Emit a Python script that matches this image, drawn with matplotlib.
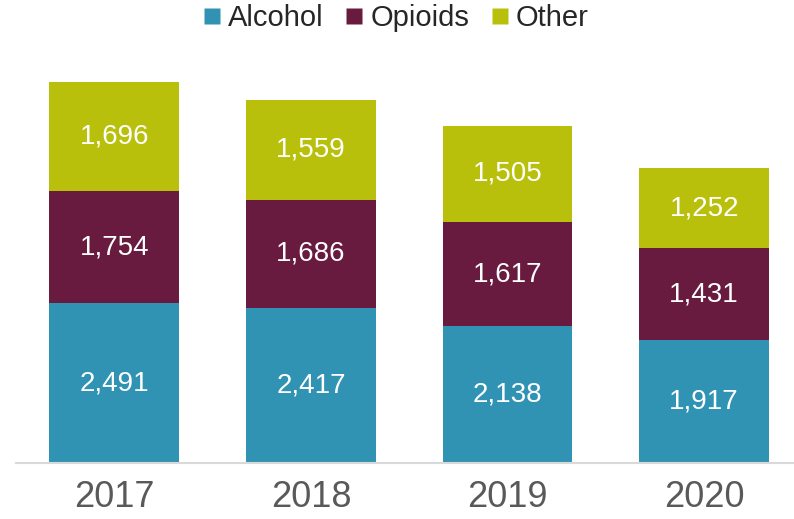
import matplotlib
matplotlib.use('Agg')
import matplotlib.pyplot as plt
from matplotlib.lines import Line2D
import numpy as np

years = ['2017', '2018', '2019', '2020']
alcohol = [2491, 2417, 2138, 1917]
opioids = [1754, 1686, 1617, 1431]
other = [1696, 1559, 1505, 1252]

series = [('Alcohol', alcohol, '#3093b3'),
          ('Opioids', opioids, '#681a3f'),
          ('Other', other, '#b8c00c')]

plt.rcParams['font.family'] = ['Liberation Sans', 'DejaVu Sans']

fig = plt.figure(figsize=(7.94, 5.19), dpi=100)
# axes placed so the baseline sits at y=463px and spans to the right edge
ax = fig.add_axes([16 / 794, 1 - 463 / 519, 1 - 16 / 794, 423 / 519])

x = np.arange(len(years))
bottom = np.zeros(len(years))
for name, vals, col in series:
    vals = np.array(vals)
    ax.bar(x, vals, 0.66, bottom=bottom, color=col, edgecolor='none')
    for xi, b, v in zip(x, bottom, vals):
        ax.text(xi, b + v / 2, f'{v:,}', ha='center', va='center',
                color='white', fontsize=20)
    bottom += vals

ax.set_xlim(-0.5, 3.457)
ax.set_ylim(0, 6596)
ax.set_yticks([])
ax.set_xticks(x)
ax.set_xticklabels(years, fontsize=26, color='#595959')
ax.tick_params(axis='x', length=0, pad=12)
for s in ['top', 'right', 'left']:
    ax.spines[s].set_visible(False)
ax.spines['bottom'].set_color('#d9d9d9')
ax.spines['bottom'].set_linewidth(1.5)

handles = [Line2D([], [], marker='s', linestyle='none', markersize=11.5,
                  markerfacecolor=c, markeredgecolor='none')
           for _, _, c in series]
fig.legend(handles, [n for n, _, _ in series], loc='center',
           bbox_to_anchor=(0.497, 1 - 18 / 519), ncol=3, frameon=False,
           fontsize=21, handletextpad=0.15, columnspacing=0.65,
           handlelength=0.8, labelcolor='#262626')

fig.savefig('out.png', dpi=100)
